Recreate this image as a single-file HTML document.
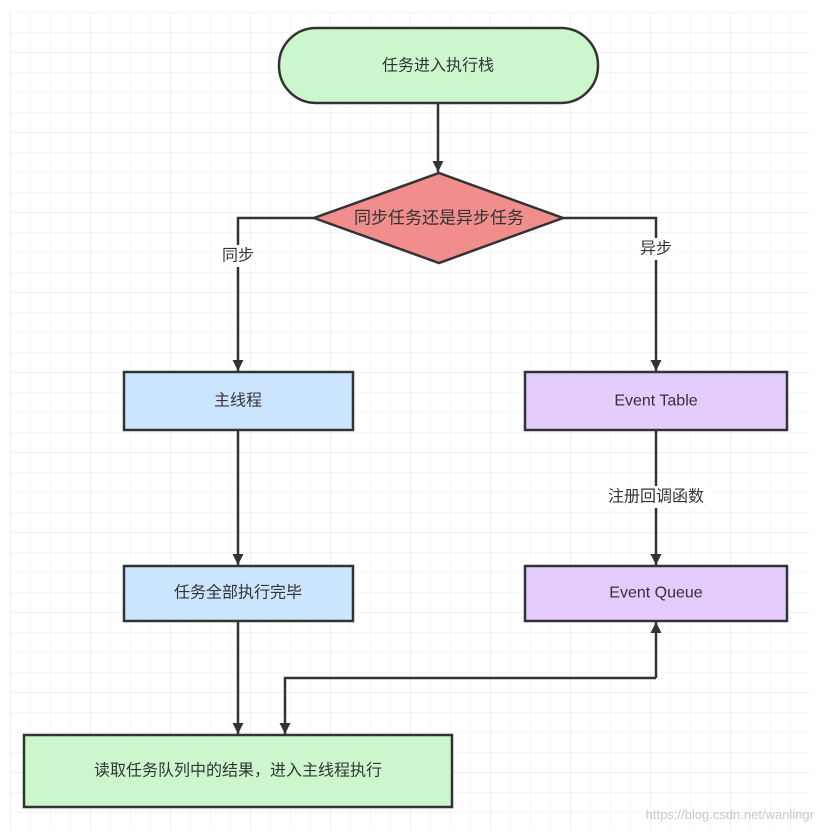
<!DOCTYPE html>
<html><head><meta charset="utf-8"><style>
html,body{margin:0;padding:0;background:#fff;}
svg{display:block;}
text{font-family:"Liberation Sans","Noto Sans CJK SC",sans-serif;font-size:16px;fill:#333;}
</style></head><body>
<svg width="820" height="836" viewBox="0 0 820 836" xmlns="http://www.w3.org/2000/svg">
<defs>
<pattern id="g" x="10" y="12" width="20" height="20" patternUnits="userSpaceOnUse">
<path d="M0 0H20M0 0V20" stroke="#ececec" stroke-width="1" fill="none"/>
</pattern>
<pattern id="G" x="10" y="52" width="80" height="80" patternUnits="userSpaceOnUse">
<path d="M0 0H80M0 0V80" stroke="#e0e0e0" stroke-width="1" fill="none"/>
</pattern>
<marker id="a" viewBox="0 0 10 10" refX="10" refY="5" markerWidth="12" markerHeight="11" markerUnits="userSpaceOnUse" orient="auto">
<path d="M0 0L10 5L0 10z" fill="#333"/>
</marker>
</defs>
<rect x="10" y="12" width="800" height="818" fill="url(#g)"/>
<rect x="10" y="12" width="800" height="818" fill="url(#G)"/>
<g stroke="#333" stroke-width="2.5" fill="none">
<path d="M438 104V172" marker-end="url(#a)"/>
<path d="M314 218H238V371" marker-end="url(#a)"/>
<path d="M563 218H656V371" marker-end="url(#a)"/>
<path d="M238 431V565" marker-end="url(#a)"/>
<path d="M656 431V565" marker-end="url(#a)"/>
<path d="M238 622V734" marker-end="url(#a)"/>
<path d="M656 678V622" marker-end="url(#a)"/>
<path d="M656 678H285V734" marker-end="url(#a)"/>
</g>
<rect x="279" y="28" width="319" height="75" rx="37" fill="#ccf7cc" stroke="#333" stroke-width="2.5"/>
<path d="M439 173L563 218L439 263L314 218Z" fill="#f28d8d" stroke="#333" stroke-width="2.5"/>
<rect x="124" y="372" width="229" height="58" fill="#cce5ff" stroke="#333" stroke-width="2.5"/>
<rect x="525" y="372" width="262" height="58" fill="#e5ccff" stroke="#333" stroke-width="2.5"/>
<rect x="124" y="566" width="229" height="55" fill="#cce5ff" stroke="#333" stroke-width="2.5"/>
<rect x="525" y="566" width="262" height="55" fill="#e5ccff" stroke="#333" stroke-width="2.5"/>
<rect x="24" y="735" width="428" height="72" fill="#ccf7cc" stroke="#333" stroke-width="2.5"/>
<rect x="220" y="245" width="36" height="22" fill="#fff"/>
<rect x="636" y="238" width="40" height="22" fill="#fff"/>
<rect x="600" y="486" width="112" height="22" fill="#fff"/>
<g text-anchor="middle" dominant-baseline="central">
<text x="438" y="66">任务进入执行栈</text>
<text x="439" y="218" style="font-size:17px">同步任务还是异步任务</text>
<text x="238" y="256">同步</text>
<text x="656" y="249">异步</text>
<text x="238" y="401">主线程</text>
<text x="656" y="401">Event Table</text>
<text x="656" y="497">注册回调函数</text>
<text x="238" y="593">任务全部执行完毕</text>
<text x="656" y="593">Event Queue</text>
<text x="238" y="771">读取任务队列中的结果，进入主线程执行</text>
</g>
<text x="814" y="819" text-anchor="end" style="font-size:13px;fill:#c8c8c8;">https://blog.csdn.net/wanlingr</text>
</svg>
</body></html>
